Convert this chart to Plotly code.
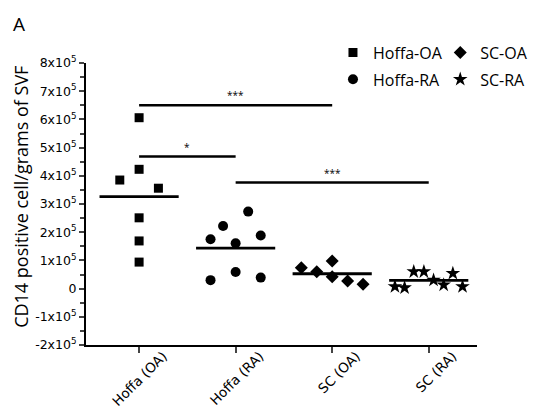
import numpy as np
import plotly.graph_objects as go

categories = ["Hoffa (OA)", "Hoffa (RA)", "SC (OA)", "SC (RA)"]
series_names = ["Hoffa-OA", "Hoffa-RA", "SC-OA", "SC-RA"]

hoffa_oa = [6.06e5, 4.23e5, 3.85e5, 3.56e5, 2.51e5, 1.69e5, 0.94e5]
hoffa_ra = [2.73e5, 2.22e5, 1.75e5, 1.88e5, 1.61e5, 0.30e5, 0.59e5, 0.39e5]
sc_oa = [0.74e5, 0.60e5, 0.98e5, 0.42e5, 0.27e5, 0.15e5]
sc_ra = [0.07e5, 0.03e5, 0.60e5, 0.60e5, 0.30e5, 0.13e5, 0.54e5, 0.07e5]

# horizontal scatter offsets (in category units) used to avoid overlap
hoffa_oa_jitter = [0, 0, -0.2, 0.2, 0, 0, 0]
hoffa_ra_jitter = [0.13, -0.13, -0.26, 0.26, 0, -0.26, 0, 0.26]
sc_oa_jitter = [-0.32, -0.16, 0, 0, 0.16, 0.32]
sc_ra_jitter = [-0.35, -0.25, -0.155, -0.05, 0.05, 0.155, 0.25, 0.35]

y_tickvals = [-2e5, -1e5, 0, 1e5, 2e5, 3e5, 4e5, 5e5, 6e5, 7e5, 8e5]
y_ticktext = ["-2x10<sup>5</sup>", "-1x10<sup>5</sup>", "0", "1x10<sup>5</sup>",
              "2x10<sup>5</sup>", "3x10<sup>5</sup>", "4x10<sup>5</sup>",
              "5x10<sup>5</sup>", "6x10<sup>5</sup>", "7x10<sup>5</sup>",
              "8x10<sup>5</sup>"]
y_title = "CD14 positive cell/grams of SVF"

# significance comparisons: (group a, group b, label, bar height)
comparisons = [(0, 2, "***", 6.5e5), (0, 1, "*", 4.68e5), (1, 3, "***", 3.76e5)]

values = [hoffa_oa, hoffa_ra, sc_oa, sc_ra]
jitters = [hoffa_oa_jitter, hoffa_ra_jitter, sc_oa_jitter, sc_ra_jitter]
symbols = ["square", "circle", "diamond", "star"]
sizes = [9, 10, 10, 11]
legends = ["legend", "legend", "legend2", "legend2"]

FONT = "Open Sans"
TICKFONT = "DejaVu Sans"
fig = go.Figure()

for i, (vals, jit) in enumerate(zip(values, jitters)):
    fig.add_trace(go.Scatter(
        x=[i + j for j in jit], y=vals, mode="markers",
        name=series_names[i], legendgroup=series_names[i], legend=legends[i],
        marker=dict(symbol=symbols[i], size=sizes[i], color="black",
                    line=dict(width=0)),
    ))

for i, vals in enumerate(values):
    m = float(np.mean(vals))
    fig.add_trace(go.Scatter(
        x=[i - 0.41, i + 0.41], y=[m, m], mode="lines",
        line=dict(color="black", width=2.8), showlegend=False,
        hoverinfo="skip"))

for a, b, lab, h in comparisons:
    fig.add_trace(go.Scatter(
        x=[a, b], y=[h, h], mode="lines",
        line=dict(color="black", width=2.5), showlegend=False,
        hoverinfo="skip"))
    fig.add_annotation(x=(a + b) / 2, y=h, text=lab, showarrow=False,
                       yanchor="bottom", yshift=1,
                       font=dict(size=10, color="black", family=FONT))

fig.add_annotation(xref="paper", yref="paper", x=-0.192, y=1.193, text="A",
                   showarrow=False, xanchor="left", yanchor="top",
                   font=dict(size=19, color="black", family=FONT))

fig.add_annotation(xref="paper", yref="paper", x=-0.165, y=0.527, text=y_title,
                   textangle=-90, showarrow=False, xanchor="center",
                   yanchor="middle",
                   font=dict(size=18, color="black", family=FONT))

legend_common = dict(yref="container", xref="container", y=0.933,
                     xanchor="left", yanchor="top",
                     traceorder="grouped", tracegroupgap=3,
                     font=dict(size=16, family=FONT, color="black"),
                     itemwidth=30, bgcolor="rgba(0,0,0,0)")

fig.update_layout(
    width=531, height=412,
    margin=dict(l=78, r=62, t=55, b=75, autoexpand=False),
    plot_bgcolor="white", paper_bgcolor="white",
    font=dict(family=FONT, color="black"),
    legend=dict(x=0.612, **legend_common),
    legend2=dict(x=0.814, **legend_common),
    xaxis=dict(range=[-0.55, 3.5], tickvals=[0, 1, 2, 3], ticktext=categories,
               tickangle=-45, ticks="outside", ticklen=6, tickwidth=2,
               ticklabelshift=24, ticklabelstandoff=-10,
               showline=True, linecolor="black", linewidth=2,
               showgrid=False, zeroline=False,
               tickfont=dict(size=13.5, family=TICKFONT, color="black")),
    yaxis=dict(range=[-2e5, 8e5], tickvals=y_tickvals, ticktext=y_ticktext,
               ticks="outside", ticklen=5, tickwidth=2,
               minor=dict(ticks="outside", ticklen=4, tickwidth=2,
                          dtick=0.5e5, tick0=0),
               showline=True, linecolor="black", linewidth=2,
               showgrid=False, zeroline=False,
               tickfont=dict(size=12.5, family=TICKFONT, color="black")),
)

fig.write_html("out.html")
